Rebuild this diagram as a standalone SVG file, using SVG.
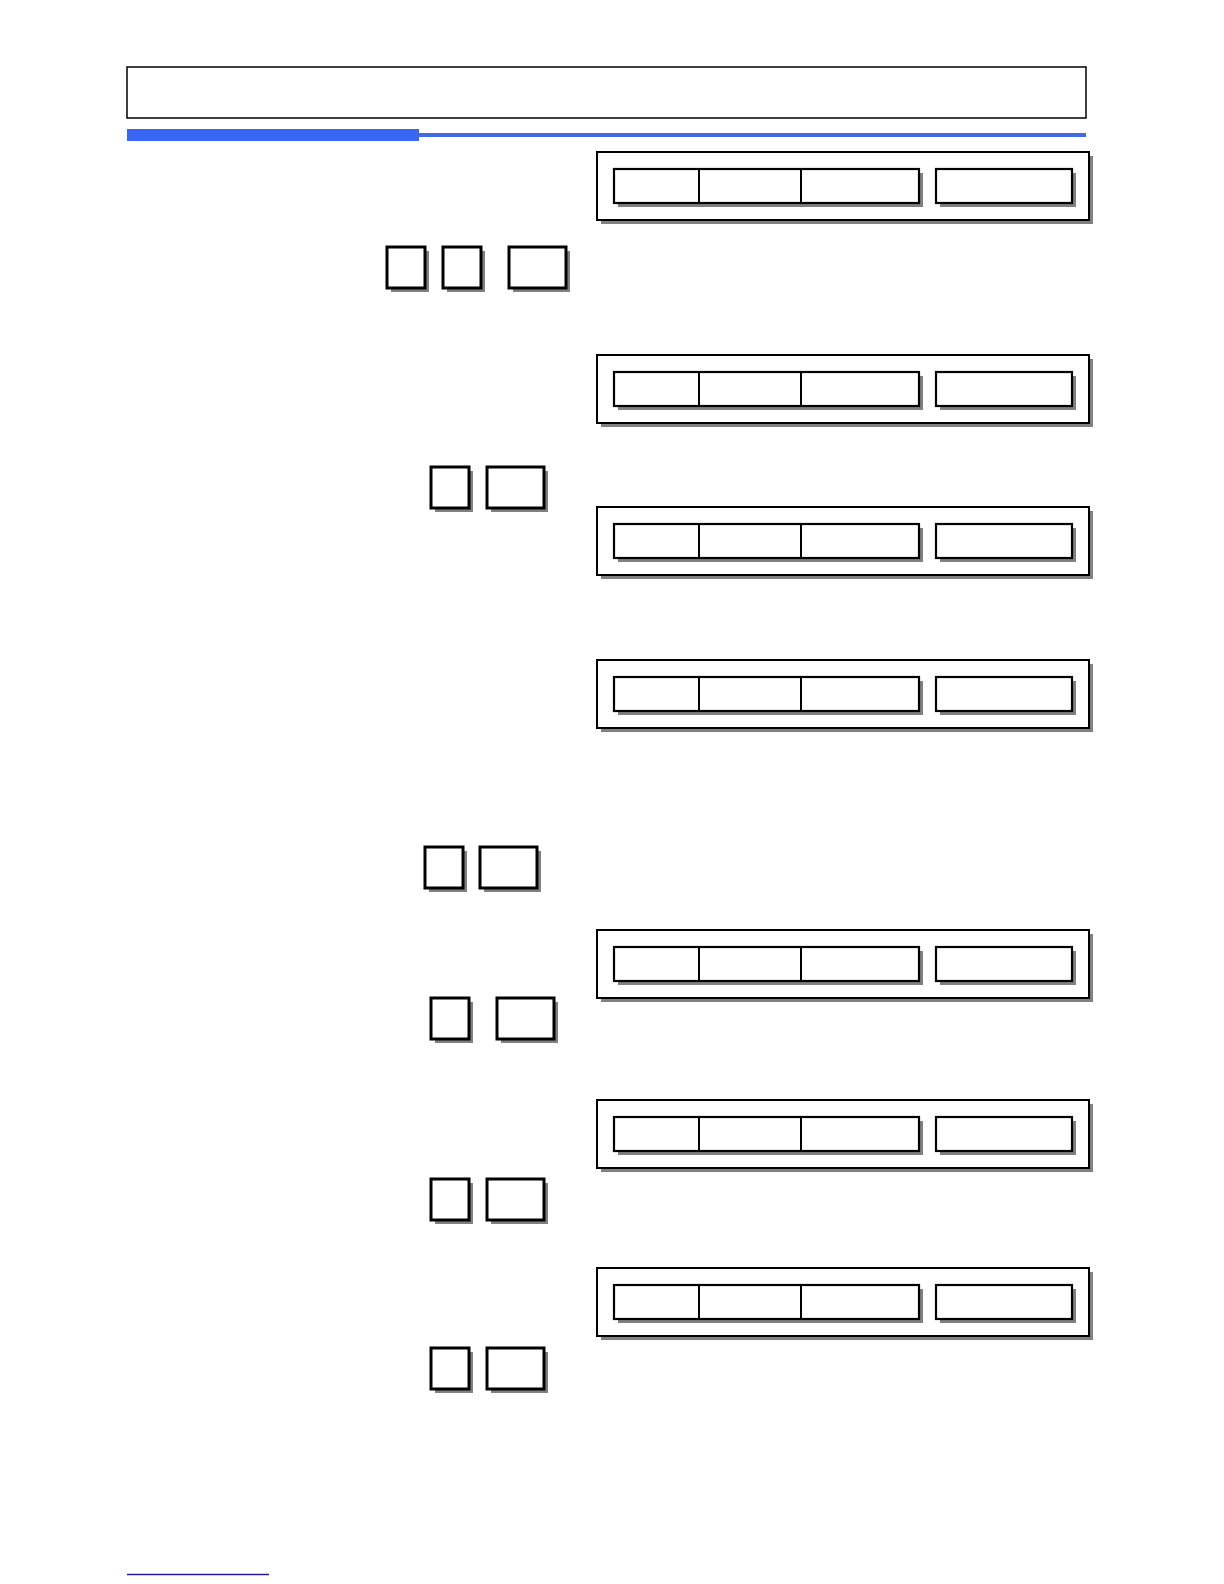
<svg xmlns="http://www.w3.org/2000/svg" width="1224" height="1584" viewBox="0 0 1224 1584">
<style>
.sh{fill:#808080}
.pn{fill:#fff;stroke:#000;stroke-width:2}
.bx{fill:#fff;stroke:#000;stroke-width:2.2}
.dv{stroke:#000;stroke-width:2}
.ky{fill:#fff;stroke:#000;stroke-width:3}
</style>
<defs>
<g id="panel">
<rect class="sh" x="4" y="4" width="492" height="68"/>
<rect class="pn" x="0" y="0" width="492" height="68"/>
<rect class="sh" x="21" y="21" width="305" height="34"/>
<rect class="bx" x="17" y="17" width="305" height="34"/>
<line class="dv" x1="102" y1="17" x2="102" y2="51"/>
<line class="dv" x1="204" y1="17" x2="204" y2="51"/>
<rect class="sh" x="343" y="21" width="136" height="34"/>
<rect class="bx" x="339" y="17" width="136" height="34"/>
</g>
<g id="keyS">
<rect class="sh" x="4" y="4" width="38" height="41"/>
<rect class="ky" x="0" y="0" width="38" height="41"/>
</g>
<g id="keyW">
<rect class="sh" x="4" y="4" width="57" height="41"/>
<rect class="ky" x="0" y="0" width="57" height="41"/>
</g>
</defs>
<g id="header">
<rect x="127" y="67" width="959" height="51" fill="#fff" stroke="#000" stroke-width="1.5"/>
<rect x="127" y="129" width="292" height="12" fill="#3b66f5"/>
<rect x="419" y="133" width="667" height="4" fill="#4169e1"/>
</g>
<g id="panel1"><use href="#panel" x="597" y="152"/></g>
<g id="keys1">
<use href="#keyS" x="387" y="247"/>
<use href="#keyS" x="443" y="247"/>
<use href="#keyW" x="509" y="247"/>
</g>
<g id="panel2"><use href="#panel" x="597" y="355"/></g>
<g id="keys2">
<use href="#keyS" x="431" y="467"/>
<use href="#keyW" x="487" y="467"/>
</g>
<g id="panel3"><use href="#panel" x="597" y="507"/></g>
<g id="panel4"><use href="#panel" x="597" y="660"/></g>
<g id="keys3">
<use href="#keyS" x="425" y="847"/>
<use href="#keyW" x="480" y="847"/>
</g>
<g id="panel5"><use href="#panel" x="597" y="930"/></g>
<g id="keys4">
<use href="#keyS" x="431" y="998"/>
<use href="#keyW" x="497" y="998"/>
</g>
<g id="panel6"><use href="#panel" x="597" y="1100"/></g>
<g id="keys5">
<use href="#keyS" x="431" y="1179"/>
<use href="#keyW" x="487" y="1179"/>
</g>
<g id="panel7"><use href="#panel" x="597" y="1268"/></g>
<g id="keys6">
<use href="#keyS" x="431" y="1348"/>
<use href="#keyW" x="487" y="1348"/>
</g>
<g id="footer">
<line x1="127" y1="1574.5" x2="269" y2="1574.5" stroke="#1f1f9e" stroke-width="1.5"/>
</g>
<g id="connectors"/>
</svg>
